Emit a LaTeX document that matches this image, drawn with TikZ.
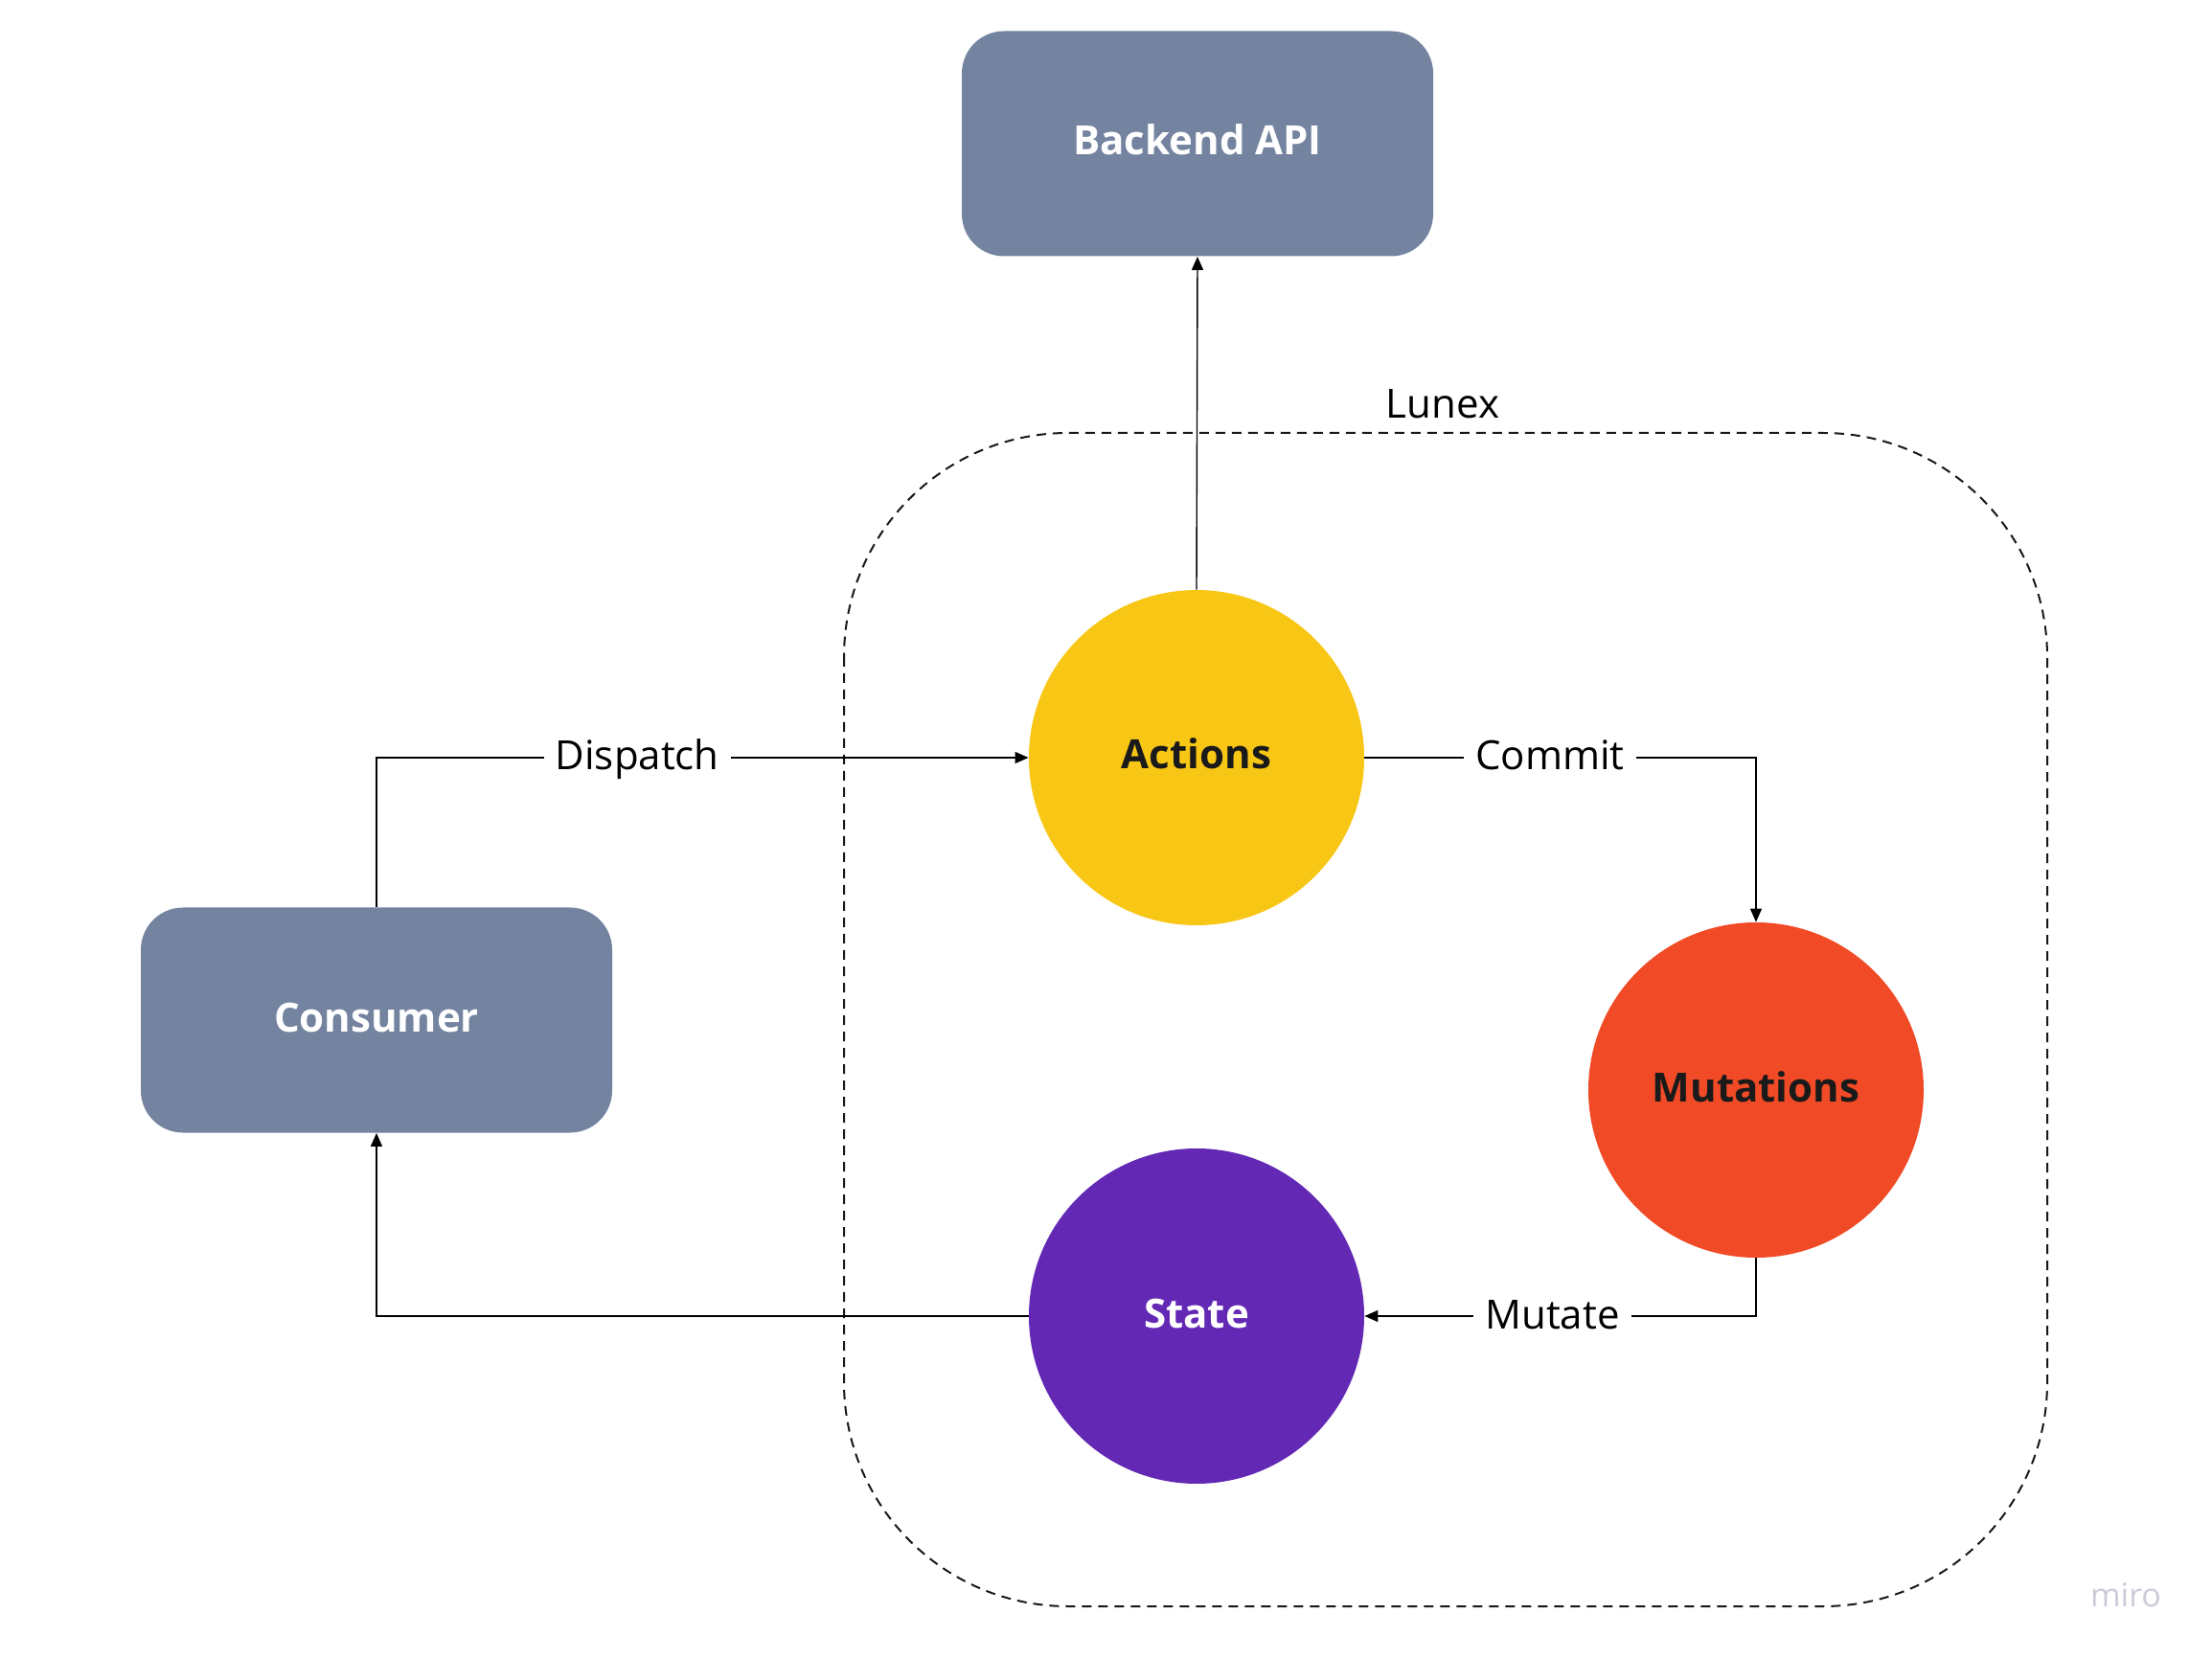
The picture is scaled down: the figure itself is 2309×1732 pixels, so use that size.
\documentclass[tikz,border=0pt]{standalone}
\usepackage{fontspec}
\setmainfont{Open Sans}
\usetikzlibrary{arrows.meta}
\definecolor{boxgray}{HTML}{7484A0}
\definecolor{actyellow}{HTML}{F8C614}
\definecolor{mutred}{HTML}{F04A26}
\definecolor{statepurple}{HTML}{6429B4}
\definecolor{darktext}{HTML}{1A1A1A}
\definecolor{mirogray}{HTML}{CBCBDA}
\tikzset{
  greybox/.style={rectangle, rounded corners=22pt, fill=boxgray, draw=none,
    minimum width=246pt, minimum height=117.5pt, inner sep=0pt,
    text height=15pt, text depth=3pt,
    text=white, font=\fontsize{21}{25}\selectfont\bfseries},
  bubble/.style={circle, draw=none, minimum size=175pt, inner sep=0pt,
    text height=15pt, text depth=3pt,
    font=\fontsize{21}{25}\selectfont\bfseries},
  conn/.style={draw=black, line width=0.7pt, -{Triangle[length=7pt,width=6pt]}},
  lbl/.style={fill=white, inner xsep=6pt, inner ysep=2pt, text=black,
    text height=18pt, text depth=5pt,
    font=\fontsize{21}{25}\selectfont},
  grouplabel/.style={text=black, text height=18pt, text depth=5pt,
    font=\fontsize{21}{25}\selectfont},
  groupbox/.style={draw=black!90, line width=1pt, dash pattern=on 5pt off 3.5pt,
    rounded corners=117pt}
}
\begin{document}
\begin{tikzpicture}[x=0.5pt, y=-0.5pt]
\useasboundingbox (0,0) rectangle (2309,1732);
% group frame
\draw[groupbox] (881,452) rectangle (2137,1677);
\node[grouplabel] (lunex) at (1506,424) {Lunex};
% nodes
\node[greybox] (backend) at (1250,150) {Backend API};
\node[greybox] (consumer) at (393,1065) {Consumer};
\node[bubble, fill=actyellow, text=darktext] (actions) at (1249,791) {Actions};
\node[bubble, fill=mutred, text=darktext] (mutations) at (1833,1138) {Mutations};
\node[bubble, fill=statepurple, text=white] (state) at (1249,1374) {State};
% connectors
\draw[conn] (actions.north) -- (backend.south);
\draw[conn] (consumer.north) |- node[lbl, pos=0.70] {Dispatch} (actions.west);
\draw[conn] (actions.east) -| node[lbl, pos=0.237] {Commit} (mutations.north);
\draw[conn] (mutations.south) |- node[lbl, pos=0.76] {Mutate} (state.east);
\draw[conn] (state.west) -| (consumer.south);
% watermark
\node[text=mirogray, font=\fontsize{17}{20}\selectfont] (miro) at (2219,1665) {miro};
\end{tikzpicture}
\end{document}
